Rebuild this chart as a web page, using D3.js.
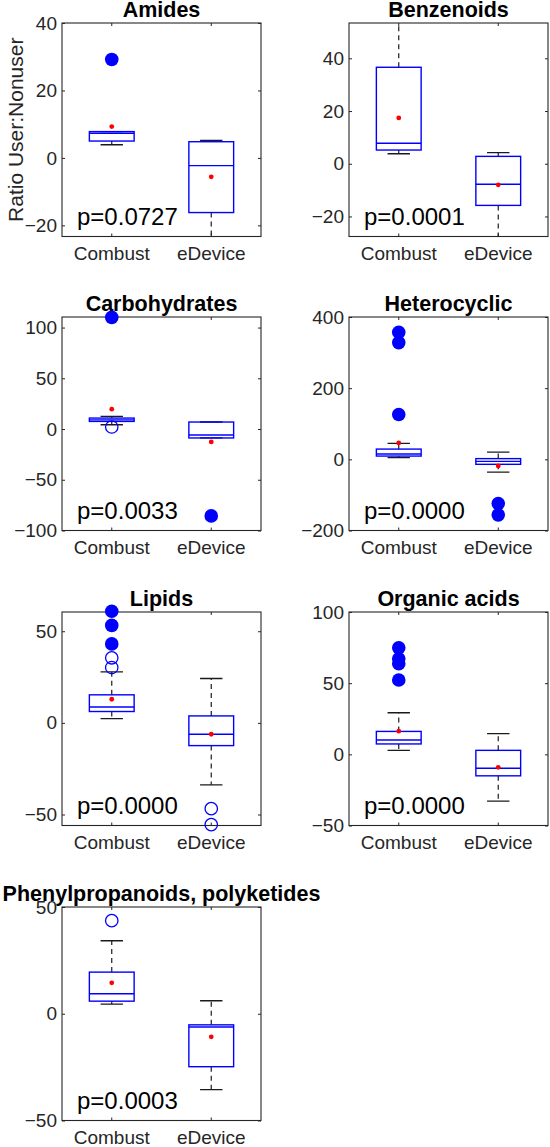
<!DOCTYPE html>
<html lang="en">
<head>
<meta charset="UTF-8">
<title>Ratio User:Nonuser by compound class</title>
<script src="https://d3js.org/d3.v7.min.js"></script>
<style>
  body { margin: 0; background: white; }
  svg { display: block; font-family: 'Liberation Sans', Arial, sans-serif; }
  .tick text { fill: #262626; }
  .tick line { stroke: #262626; }
</style>
</head>
<body>
<svg width="550" height="1147"></svg>
<script>
// compound classes, one panel each
const classes = ["Amides", "Benzenoids", "Carbohydrates", "Heterocyclic",
  "Lipids", "Organic acids", "Phenylpropanoids, polyketides"];
const groups = ["Combust", "eDevice"];
const pLabels = ["p=0.0727", "p=0.0001", "p=0.0033", "p=0.0000",
  "p=0.0000", "p=0.0000", "p=0.0003"];
const yLimits = [[-23.3, 40], [-27.6, 53.4], [-100, 110.4], [-200, 400],
  [-56, 60.5], [-50, 100], [-50, 50]];
const yTickValues = [[-20, 0, 20, 40], [-20, 0, 20, 40], [-100, -50, 0, 50, 100],
  [-200, 0, 200, 400], [-50, 0, 50], [-50, 0, 50, 100], [-50, 0, 50]];

// [lower whisker, q1, median, q3, upper whisker, mean]
const combustStats = [
  [3.9, 5.0, 7.3, 7.8, 7.8, 9.3],
  [3.8, 5.2, 7.8, 36.6, 60, 17.4],
  [4.2, 7.5, 9.0, 10.8, 12.4, 19.6],
  [4.7, 9.2, 15, 28.8, 44.8, 46],
  [2.3, 6.2, 8.7, 15.3, 27.8, 12.9],
  [2.8, 7.3, 10.1, 16.1, 29.2, 16.3],
  [4.5, 5.9, 9.4, 19.5, 34.2, 14.5]
];
const eDeviceStats = [
  [-24, -16.2, -2.3, 4.8, 5.2, -5.6],
  [-30, -15.8, -7.8, 2.8, 4.2, -8],
  [-8.8, -8.8, -5.9, 6.9, 6.9, -12.7],
  [-36, -14, -5.6, 2, 20.4, -18.6],
  [-33.8, -12.4, -6.2, 3.8, 24.2, -6.2],
  [-32.9, -15.1, -9.8, 2.8, 14.5, -9.1],
  [-35.5, -24.8, -6.2, -5.2, 6.1, -10.8]
];
// outliers: filled = extreme, open = mild
const combustFilled = [[29.2], [], [110], [357, 328, 126], [60.9, 53.2, 43.1],
  [74.8, 67.1, 63.6, 52.2], []];
const combustOpen = [[], [], [2], [], [35.5, 30.2], [], [43.6]];
const eDeviceFilled = [[], [], [-85.6], [-124, -156], [], [], []];
const eDeviceOpen = [[], [], [], [], [-46.8, -55.5], [], []];

const colLeft = [62, 349];
const rowTop = [23, 317, 612, 907];
const w = 199, h = 213.5;

const svg = d3.select("svg");

classes.forEach((name, i) => {
  const left = colLeft[i % 2], top = rowTop[Math.floor(i / 2)];
  const g = svg.append("g").attr("transform", `translate(${left},${top})`);

  const x = d3.scaleBand().domain(groups).range([0, w]);
  const y = d3.scaleLinear().domain(yLimits[i]).range([h, 0]);
  const cx = d => x(d) + x.bandwidth() / 2;
  const boxW = x.bandwidth() * 0.45, capW = boxW / 2;

  g.append("clipPath").attr("id", "clip" + i)
    .append("rect").attr("width", w).attr("height", h);

  // axes, MATLAB style with inward ticks
  g.append("g").call(d3.axisLeft(y).tickValues(yTickValues[i]).tickSize(-3).tickPadding(5))
    .call(a => a.select(".domain").remove())
    .selectAll("text").style("font-size", "19px");
  g.append("g").attr("transform", `translate(${w},0)`)
    .call(d3.axisRight(y).tickValues(yTickValues[i]).tickSize(-3).tickFormat(""))
    .call(a => a.select(".domain").remove());
  g.append("g").attr("transform", `translate(0,${h})`)
    .call(d3.axisBottom(x).tickSize(-3).tickPadding(10))
    .call(a => a.select(".domain").remove())
    .selectAll("text").style("font-size", "19px");
  g.append("g")
    .call(d3.axisTop(x).tickSize(-3).tickFormat(""))
    .call(a => a.select(".domain").remove());
  g.append("rect").attr("width", w).attr("height", h)
    .attr("fill", "none").attr("stroke", "#262626").attr("stroke-width", 1.1);

  const stats = [combustStats[i], eDeviceStats[i]];
  const filled = [combustFilled[i], eDeviceFilled[i]];
  const open = [combustOpen[i], eDeviceOpen[i]];

  const marks = g.append("g").attr("clip-path", `url(#clip${i})`);

  groups.forEach((grp, k) => {
    const [lo, q1, med, q3, hi, mean] = stats[k];
    const c = cx(grp);
    // whiskers
    marks.append("line").attr("x1", c).attr("x2", c).attr("y1", y(q3)).attr("y2", y(hi))
      .attr("stroke", "#1a1a1a").attr("stroke-width", 1.2).attr("stroke-dasharray", "5,4");
    marks.append("line").attr("x1", c).attr("x2", c).attr("y1", y(q1)).attr("y2", y(lo))
      .attr("stroke", "#1a1a1a").attr("stroke-width", 1.2).attr("stroke-dasharray", "5,4");
    [lo, hi].forEach(v => {
      marks.append("line").attr("x1", c - capW / 2).attr("x2", c + capW / 2)
        .attr("y1", y(v)).attr("y2", y(v)).attr("stroke", "#1a1a1a").attr("stroke-width", 1.3);
    });
    // box and median
    g.append("rect").attr("x", c - boxW / 2).attr("y", y(q3))
      .attr("width", boxW).attr("height", y(q1) - y(q3))
      .attr("fill", "none").attr("stroke", "#0000ff").attr("stroke-width", 1.4);
    g.append("line").attr("x1", c - boxW / 2).attr("x2", c + boxW / 2)
      .attr("y1", y(med)).attr("y2", y(med)).attr("stroke", "#0000ff").attr("stroke-width", 1.4);
    // outliers
    g.selectAll(null).data(filled[k]).join("circle")
      .attr("cx", c).attr("cy", d => y(d)).attr("r", 6.8).attr("fill", "#0000ff");
    g.selectAll(null).data(open[k]).join("circle")
      .attr("cx", c).attr("cy", d => y(d)).attr("r", 6.2)
      .attr("fill", "none").attr("stroke", "#0000ff").attr("stroke-width", 1.3);
    // mean
    g.append("circle").attr("cx", c).attr("cy", y(mean)).attr("r", 2.4).attr("fill", "#ff0000");
  });

  g.append("text").attr("x", w / 2).attr("y", -6).attr("text-anchor", "middle")
    .style("font-size", "21.5px").style("font-weight", "bold").attr("fill", "#000")
    .text(name);

  g.append("text").attr("x", 15).attr("y", h - 11.5)
    .style("font-size", "24px").attr("fill", "#000").text(pLabels[i]);

  if (i === 0) {
    svg.append("text")
      .attr("transform", `translate(22.5,${top + h / 2}) rotate(-90)`)
      .attr("text-anchor", "middle").style("font-size", "21px").attr("fill", "#262626")
      .text("Ratio User:Nonuser");
  }
});
</script>
</body>
</html>
